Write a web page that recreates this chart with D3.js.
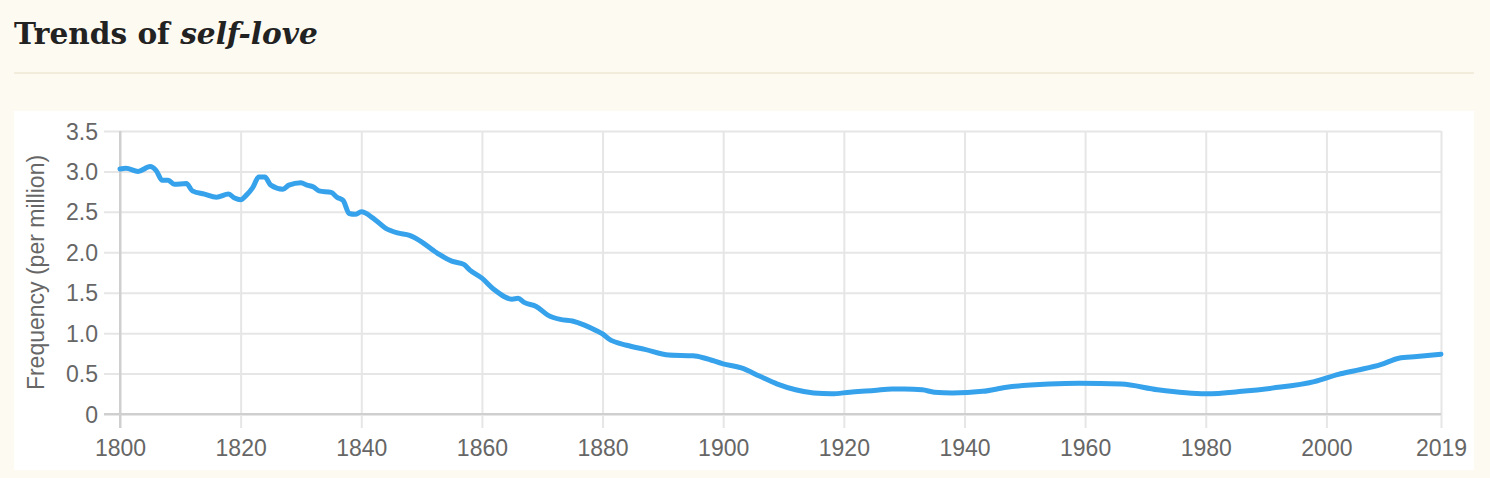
<!DOCTYPE html>
<html>
<head>
<meta charset="utf-8">
<script src="https://cdn.jsdelivr.net/npm/d3@7"></script>
<style>
  html, body { margin: 0; padding: 0; background: #fdfaf1; }
  svg { display: block; }
</style>
</head>
<body>
<svg id="chart" width="1490" height="478"></svg>
<script>
// ---- data ----
const years = [1800,1801,1803,1805,1806,1807,1808,1809,1811,1812,1814,1816,1818,1819,1820,1821,1822,1823,1824,1825,1827,1828,1830,1831,1832,1833,1835,1836,1837,1838,1839,1840,1842,1844,1846,1848,1850,1852,1853,1855,1857,1858,1860,1862,1865,1866,1867,1869,1871,1873,1875,1877,1879,1880,1881,1884,1887,1891,1895,1897,1900,1903,1906,1909,1912,1915,1918,1921,1925,1928,1930,1933,1935,1938,1943,1947,1954,1959,1966,1972,1980,1986,1991,1998,2002,2005,2009,2012,2015,2019];
const frequency = [3.03,3.04,3.00,3.06,3.01,2.89,2.89,2.84,2.85,2.76,2.72,2.68,2.72,2.67,2.65,2.71,2.80,2.93,2.93,2.83,2.78,2.83,2.86,2.83,2.81,2.76,2.74,2.68,2.64,2.48,2.47,2.50,2.42,2.30,2.24,2.21,2.13,2.02,1.97,1.89,1.85,1.78,1.68,1.54,1.42,1.43,1.38,1.33,1.22,1.17,1.15,1.10,1.03,0.99,0.93,0.85,0.80,0.73,0.72,0.69,0.62,0.57,0.47,0.37,0.30,0.26,0.25,0.27,0.29,0.31,0.31,0.30,0.27,0.26,0.28,0.33,0.37,0.38,0.37,0.30,0.25,0.28,0.32,0.40,0.49,0.54,0.61,0.69,0.71,0.74];
const xTicks = [1800,1820,1840,1860,1880,1900,1920,1940,1960,1980,2000,2019];
const yTicks = [0,0.5,1.0,1.5,2.0,2.5,3.0,3.5];
const titlePlain = "Trends of ";
const titleItalic = "self-love";
const yLabel = "Frequency (per million)";

// ---- layout ----
const svg = d3.select("#chart");
const plot = {left: 120, right: 1441, top: 131, bottom: 414};

// title
const title = svg.append("text")
  .attr("x", 14).attr("y", 44)
  .attr("font-family", "'DejaVu Serif', 'Liberation Serif', serif")
  .attr("font-weight", "bold")
  .attr("font-size", 26)
  .attr("fill", "#222");
title.append("tspan").text(titlePlain);
title.append("tspan").attr("font-style", "italic").text(titleItalic);
// fit the title width to the reference (~304px)
const tw = title.node().getComputedTextLength();
title.attr("font-size", 26 * 304 / tw);

// divider
svg.append("rect").attr("x", 14).attr("y", 72).attr("width", 1460).attr("height", 2).attr("fill", "#f1ecdc");

// white panel
svg.append("rect").attr("x", 14).attr("y", 111).attr("width", 1460).attr("height", 359).attr("fill", "#ffffff");

// scales
const x = d3.scaleLinear().domain([1800, 2019]).range([plot.left, plot.right]);
const y = d3.scaleLinear().domain([0, 3.5]).range([plot.bottom, plot.top]);

const gridColor = "#e6e6e6";
const axisColor = "#cfcfcf";
const fontSans = "'Liberation Sans', Arial, Helvetica, sans-serif";

// y grid (with ticks extending left)
const yAxis = d3.axisLeft(y).tickValues(yTicks)
  .tickSize(-(plot.right - plot.left)).tickPadding(22)
  .tickFormat(d => d === 0 ? "0" : d3.format(".1f")(d));
const gy = svg.append("g").attr("transform", `translate(${plot.left},0)`).call(yAxis);
gy.select(".domain").remove();
gy.selectAll(".tick line")
  .attr("x1", -16)
  .attr("stroke", d => d === 0 ? axisColor : gridColor)
  .attr("stroke-width", 2);
gy.selectAll(".tick text").attr("fill", "#666").attr("font-size", 23).attr("font-family", fontSans).attr("dy", "0.35em");

// x grid (with ticks extending down)
const xAxis = d3.axisBottom(x).tickValues(xTicks)
  .tickSize(-(plot.bottom - plot.top)).tickPadding(26)
  .tickFormat(d3.format("d"));
const gx = svg.append("g").attr("transform", `translate(0,${plot.bottom})`).call(xAxis);
gx.select(".domain").remove();
gx.selectAll(".tick line")
  .attr("y1", 14)
  .attr("stroke", d => d === 1800 ? axisColor : gridColor)
  .attr("stroke-width", 2);
gx.selectAll(".tick text").attr("fill", "#666").attr("font-size", 23).attr("font-family", fontSans).attr("dy", "0.71em");

// redraw zero line on top of vertical grid
svg.append("line").attr("x1", plot.left - 16).attr("x2", plot.right)
  .attr("y1", y(0)).attr("y2", y(0)).attr("stroke", axisColor).attr("stroke-width", 2);
svg.append("line").attr("x1", x(1800)).attr("x2", x(1800))
  .attr("y1", plot.top).attr("y2", plot.bottom + 14).attr("stroke", axisColor).attr("stroke-width", 2);

// y axis title
svg.append("text")
  .attr("transform", `translate(44,${(plot.top + plot.bottom) / 2}) rotate(-90)`)
  .attr("text-anchor", "middle")
  .attr("font-family", fontSans).attr("font-size", 23).attr("fill", "#666")
  .text(yLabel);

// line
const data = years.map((yr, i) => ({yr, v: frequency[i]}));
const line = d3.line().x(d => x(d.yr)).y(d => y(d.v)).curve(d3.curveMonotoneX);
svg.append("path").datum(data)
  .attr("d", line)
  .attr("fill", "none")
  .attr("stroke", "#36a2eb")
  .attr("stroke-width", 5)
  .attr("stroke-linejoin", "round")
  .attr("stroke-linecap", "round");
</script>
</body>
</html>
